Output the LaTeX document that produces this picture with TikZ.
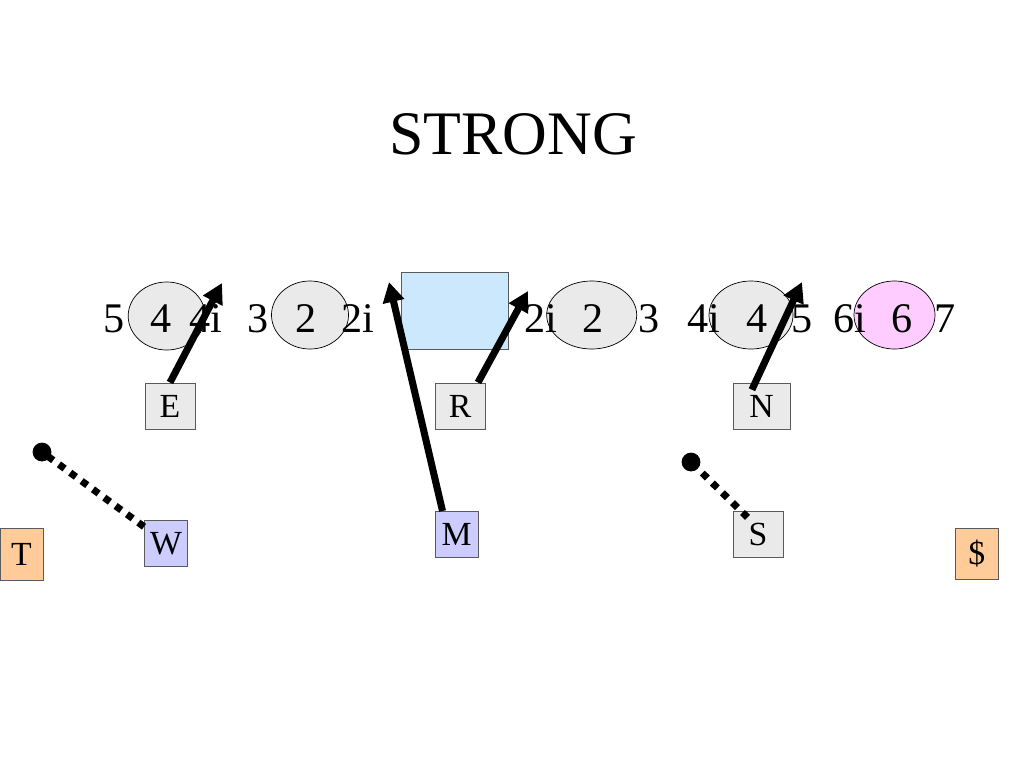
\documentclass[tikz,border=0pt]{standalone}
\usepackage{fontspec}
\setmainfont{Liberation Serif}
\usepackage{tikz}
\usetikzlibrary{arrows.meta,shapes,positioning}
\definecolor{dlgray}{RGB}{234,234,234}
\definecolor{dlblue}{RGB}{204,232,252}
\definecolor{dlpink}{RGB}{255,204,255}
\definecolor{dlviolet}{RGB}{204,204,255}
\definecolor{dlorange}{RGB}{255,204,153}
\definecolor{dledge}{RGB}{90,90,90}
\tikzstyle{tech} = [ellipse, draw=black, fill=dlgray, line width=0.5pt, inner sep=0, minimum height=1.7cm]
\tikzstyle{gap} = [anchor=base, inner sep=0, font=\fontsize{30}{36}\selectfont]
\tikzstyle{player} = [rectangle, draw=dledge, fill=dlgray, line width=0.7pt, inner sep=0, minimum width=1.25cm, minimum height=1.15cm, font=\fontsize{24}{28}\selectfont]
\tikzstyle{dot} = [circle, fill=black, inner sep=0, minimum size=0.47cm]
\tikzstyle{arrow} = [line width=5pt, -{Triangle[length=0.5cm,width=0.52cm]}]
\tikzstyle{dotline} = [line width=5pt, dash pattern=on 5pt off 5pt]

\begin{document}
\begin{tikzpicture}[x=0.025cm, y=-0.025cm]
\useasboundingbox (0,0) rectangle (1024,768);

% Title
\node (title) [font=\fontsize{44}{52}\selectfont, inner sep=0] at (513,134) {STRONG};

% Techniques and ball
\node (tech4l) [tech, minimum width=1.925cm] at (166.7,316) {};
\node (tech2l) [tech, minimum width=1.925cm] at (310,315) {};
\node (ball) [rectangle, draw=dledge, fill=dlblue, line width=0.7pt, minimum width=2.675cm, minimum height=1.9cm] at (454.5,311) {};
\node (tech2r) [tech, minimum width=2.25cm] at (591.7,315) {};
\node (tech4r) [tech, minimum width=2.1cm] at (751,315) {};
\node (tech6r) [tech, minimum width=2.025cm, fill=dlpink] at (894.5,315) {};

% Gap labels
\node (g5l) [gap] at (114,332) {5};
\node (g4l) [gap] at (161,332) {4};
\node (g4il) [gap] at (206,332) {4i};
\node (g3l) [gap] at (258,332) {3};
\node (g2l) [gap] at (306,332) {2};
\node (g2il) [gap] at (358,332) {2i};
\node (g2ir) [gap] at (541,332) {2i};
\node (g2r) [gap] at (593,332) {2};
\node (g3r) [gap] at (649,332) {3};
\node (g4ir) [gap] at (704,332) {4i};
\node (g4r) [gap] at (757,332) {4};
\node (g5r) [gap] at (802,332) {5};
\node (g6ir) [gap] at (850,332) {6i};
\node (g6r) [gap] at (902,332) {6};
\node (g7r) [gap] at (945,332) {7};

% Defenders
\node (E) [player, text depth=-0.08cm] at (170,406) {E};
\node (R) [player, text depth=-0.08cm] at (460,406) {R};
\node (N) [player, text depth=-0.08cm, minimum width=1.425cm] at (761.5,406) {N};
\node (W) [player, text depth=-0.08cm, fill=dlviolet, minimum width=1.075cm] at (166,543) {W};
\node (M) [player, text depth=-0.08cm, fill=dlviolet, minimum width=1.075cm] at (456.5,534.5) {M};
\node (S) [player, text depth=-0.08cm] at (758,534.5) {S};
\node (T) [player, text depth=-0.08cm, fill=dlorange, minimum width=1.075cm, minimum height=1.3cm] at (21.5,554) {T};
\node (dollar) [player, fill=dlorange, minimum width=1.075cm, minimum height=1.275cm] at (976.7,554) {\$};

% Drop points
\node (wdot) [dot] at (42,452) {};
\node (sdot) [dot] at (691,462) {};
\coordinate (etip) at (222,283);
\coordinate (mtip) at (389,282);
\coordinate (rtip) at (528,291);
\coordinate (ntip) at (802,282);

% Rush arrows
\draw[arrow] (E.north) -- (etip);
\draw[arrow] ([xshift=0.2cm]M.north west) -- (mtip);
\draw[arrow] ([xshift=0.45cm]R.north) -- (rtip);
\draw[arrow] ([xshift=-0.24cm,yshift=-0.18cm]N.north) -- (ntip);

% Drops
\draw[dotline] ([yshift=-0.18cm]W.north west) -- (wdot.center);
\draw[dotline] ([xshift=0.375cm,yshift=-0.16cm]S.north west) -- (sdot.center);
\end{tikzpicture}
\end{document}
